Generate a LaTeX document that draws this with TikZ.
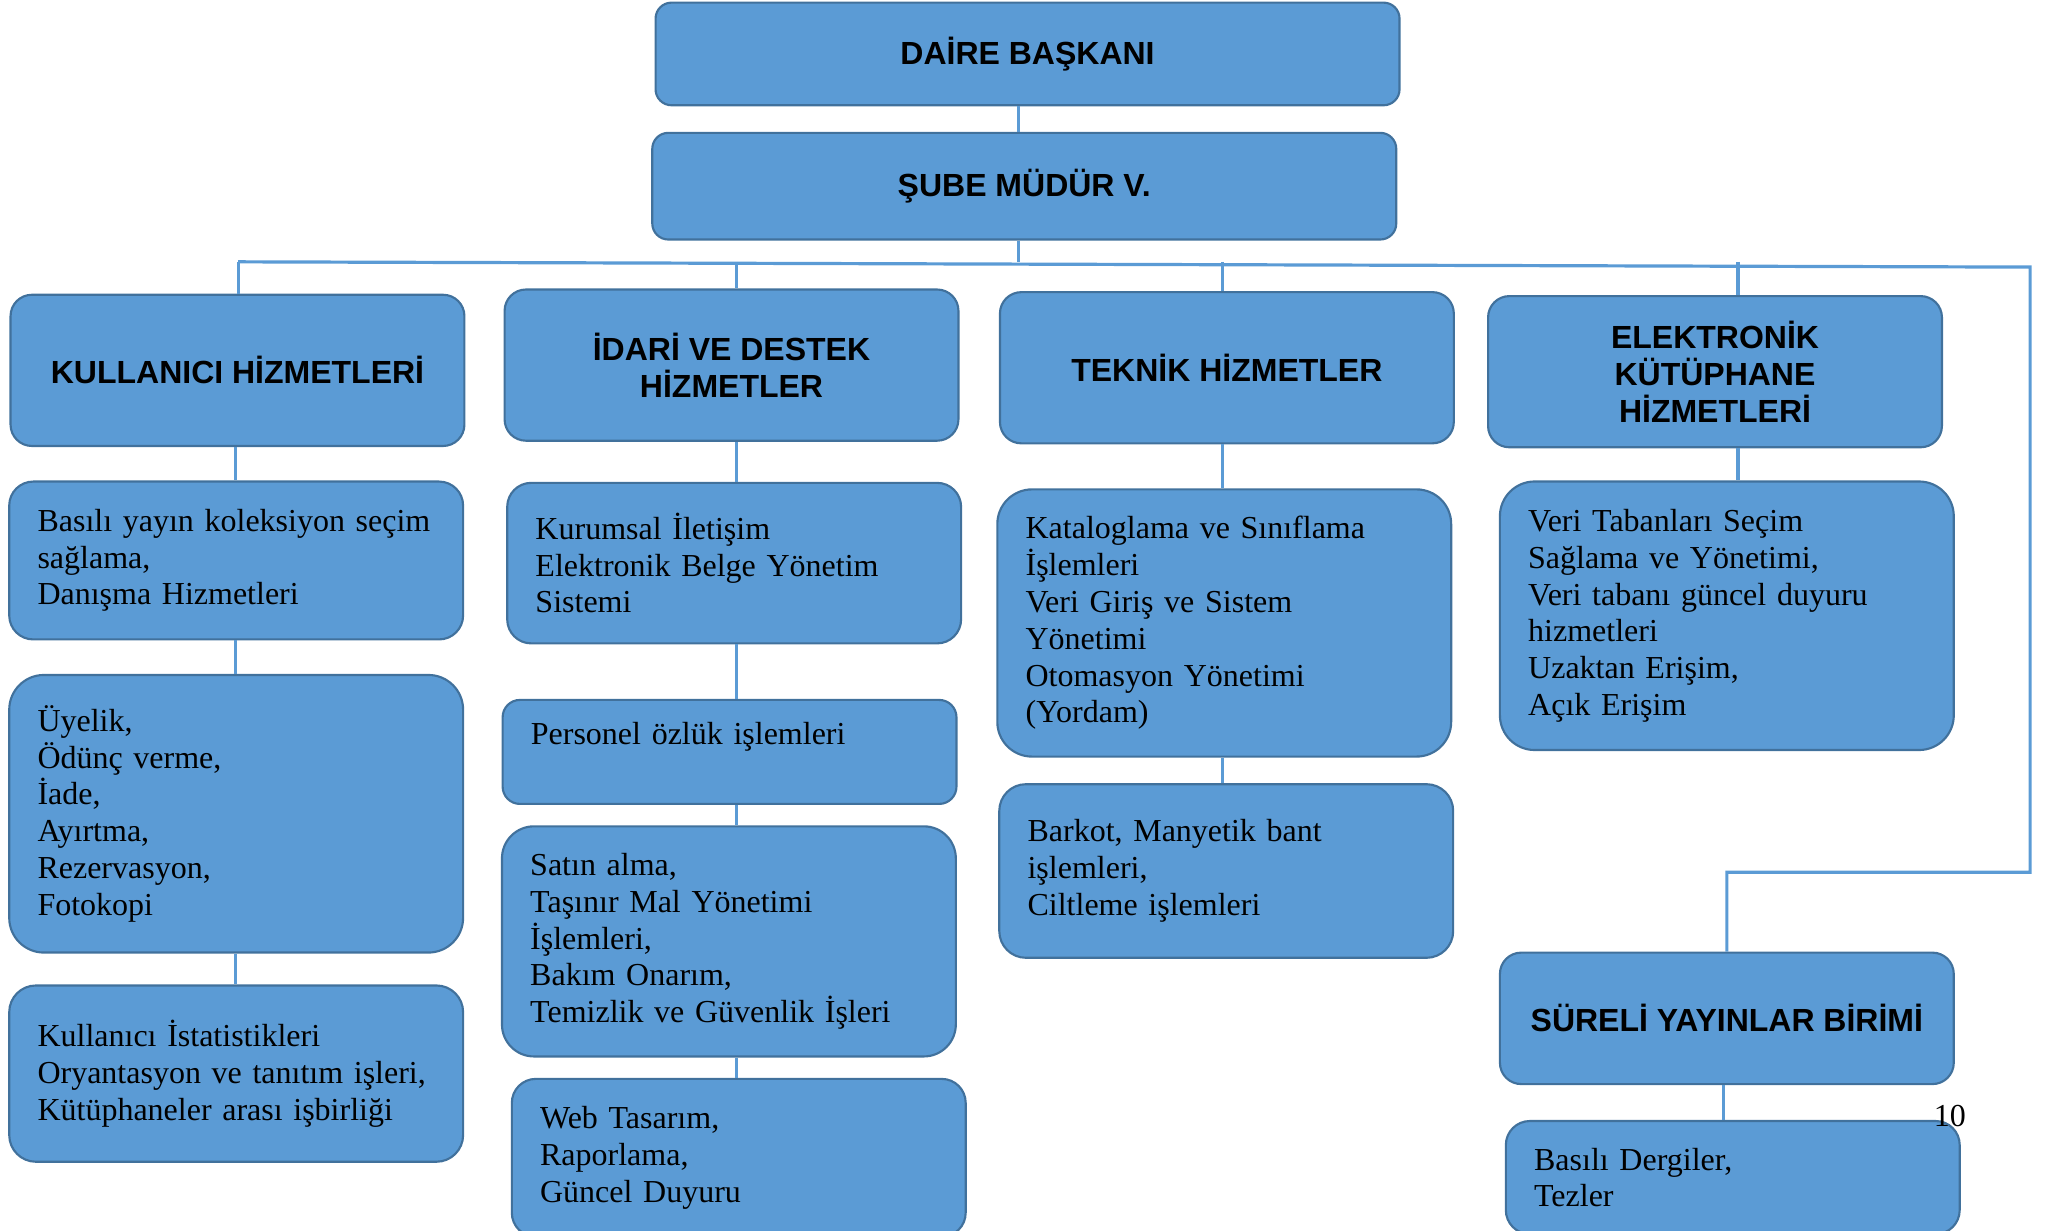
\documentclass[tikz,border=0pt]{standalone}
\usepackage{fontspec}
\setmainfont{Liberation Serif}
\setsansfont{Liberation Sans}
\usepackage{xcolor}

\definecolor{boxblue}{HTML}{5B9BD5}
\definecolor{boxedge}{HTML}{41719C}

\begin{document}
\begin{tikzpicture}[x=0.4934pt, y=-0.4934pt,
    lead/.style={draw=boxedge, fill=boxblue, line width=0.8pt, rounded corners=6pt,
        minimum width=279pt, minimum height=38.5pt,
        font=\sffamily\bfseries\fontsize{12}{13.8}\selectfont},
    dept/.style={draw=boxedge, fill=boxblue, line width=0.8pt, rounded corners=8pt,
        minimum width=170.2pt, minimum height=56.7pt, align=center,
        font=\sffamily\bfseries\fontsize{12}{13.8}\selectfont},
    task/.style={draw=boxedge, fill=boxblue, line width=0.8pt, rounded corners=9pt,
        inner xsep=10.6pt, text width=149pt, align=left,
        font=\fontsize{12}{13.8}\selectfont},
    link/.style={draw=boxblue, line width=1.2pt}]

        \useasboundingbox (0, 0) rectangle (1568, 935);
        \clip (0, 0) rectangle (1568, 935);

        % top of the chart
        \node[lead] (baskan) at (781, 41) {DAİRE BAŞKANI};
        \node[lead, minimum height=40pt] (sube) at (778.5, 141.5) {ŞUBE MÜDÜR V.};

        % departments
        \node[dept] (kullanici) at (180.5, 281.5) {KULLANICI HİZMETLERİ};
        \node[dept] (idari) at (556, 277.5) {İDARİ VE DESTEK\\HİZMETLER};
        \node[dept] (teknik) at (932.5, 279.5) {TEKNİK HİZMETLER};
        \node[dept] (elektronik) at (1303.5, 282.5) {ELEKTRONİK\\KÜTÜPHANE\\HİZMETLERİ};
        \node[dept, minimum height=49.3pt] (sureli) at (1312.5, 774) {SÜRELİ YAYINLAR BİRİMİ};

        % duties
        \node[task, minimum height=59.2pt] (k1) at (179.5, 426)
            {Basılı yayın koleksiyon seçim\\sağlama,\\Danışma Hizmetleri};
        \node[task, minimum height=104.1pt, rounded corners=13pt] (k2) at (179.5, 618.5)
            {Üyelik,\\Ödünç verme,\\İade,\\Ayırtma,\\Rezervasyon,\\Fotokopi};
        \node[task, minimum height=66.1pt, rounded corners=10pt] (k3) at (179.5, 816)
            {Kullanıcı İstatistikleri\\Oryantasyon ve tanıtım işleri,\\Kütüphaneler arası işbirliği};

        \node[task, minimum height=60.2pt] (i1) at (558, 428)
            {Kurumsal İletişim\\Elektronik Belge Yönetim\\Sistemi};
        \node[task, minimum height=39pt, rounded corners=6.5pt] (i2) at (554.5, 571.5)
            {Personel özlük işlemleri\\~};
        \node[task, minimum height=86.3pt, rounded corners=12pt] (i3) at (554, 715.5)
            {Satın alma,\\Taşınır Mal Yönetimi\\İşlemleri,\\Bakım Onarım,\\Temizlik ve Güvenlik İşleri};
        \node[task, minimum height=59.2pt] (i4) at (561.5, 880)
            {Web Tasarım,\\Raporlama,\\Güncel Duyuru};

        \node[task, minimum height=100.2pt, rounded corners=13pt] (t1) at (930.5, 473.5)
            {Kataloglama ve Sınıflama\\İşlemleri\\Veri Giriş ve Sistem\\Yönetimi\\Otomasyon Yönetimi\\(Yordam)};
        \node[task, minimum height=65.1pt, rounded corners=10pt] (t2) at (932, 662)
            {Barkot, Manyetik bant\\işlemleri,\\Ciltleme işlemleri};

        \node[task, minimum height=100.7pt, rounded corners=13pt] (e1) at (1312.5, 468)
            {Veri Tabanları Seçim\\Sağlama ve Yönetimi,\\Veri tabanı güncel duyuru\\hizmetleri\\Uzaktan Erişim,\\Açık Erişim};
        \node[task, minimum height=42.4pt] (s1) at (1317, 895)
            {Basılı Dergiler,\\Tezler};

        \node[font=\fontsize{12}{13.8}\selectfont, inner sep=0pt] (sayfa) at (1482, 848) {10};

        % connectors
        \coordinate (col0) at (774, 0);
        \coordinate (col1) at (179, 0);
        \coordinate (col2) at (560, 0);
        \coordinate (col3) at (929, 0);
        \coordinate (col4) at (1321, 0);
        \coordinate (col5) at (1310, 0);
        \coordinate (busW) at (181, 199);
        \coordinate (busE) at (1543, 203);
        \coordinate (turn) at (1543, 663);

        \draw[link] (baskan.south -| col0) -- (sube.north -| col0);
        \draw[link] (sube.south -| col0) -- (col0 |- busW);
        \draw[link] (busW) -- (busE) -- (turn) -| (sureli.north);

        \draw[link] (busW) -- (kullanici.north -| busW);
        \foreach \c in {2, 3, 4} {
            \path (col\c |- busW) coordinate (drop\c);
        }
        \draw[link] (drop2) -- (idari.north -| col2);
        \draw[link] (drop3) -- (teknik.north -| col3);
        \draw[link] (drop4) -- (elektronik.north -| col4);

        \foreach \a/\b/\c in {kullanici/k1/col1, k1/k2/col1, k2/k3/col1,
                idari/i1/col2, i1/i2/col2, i2/i3/col2, i3/i4/col2,
                teknik/t1/col3, t1/t2/col3, elektronik/e1/col4, sureli/s1/col5} {
            \draw[link] (\a.south -| \c) -- (\b.north -| \c);
        }

    \end{tikzpicture}
\end{document}
